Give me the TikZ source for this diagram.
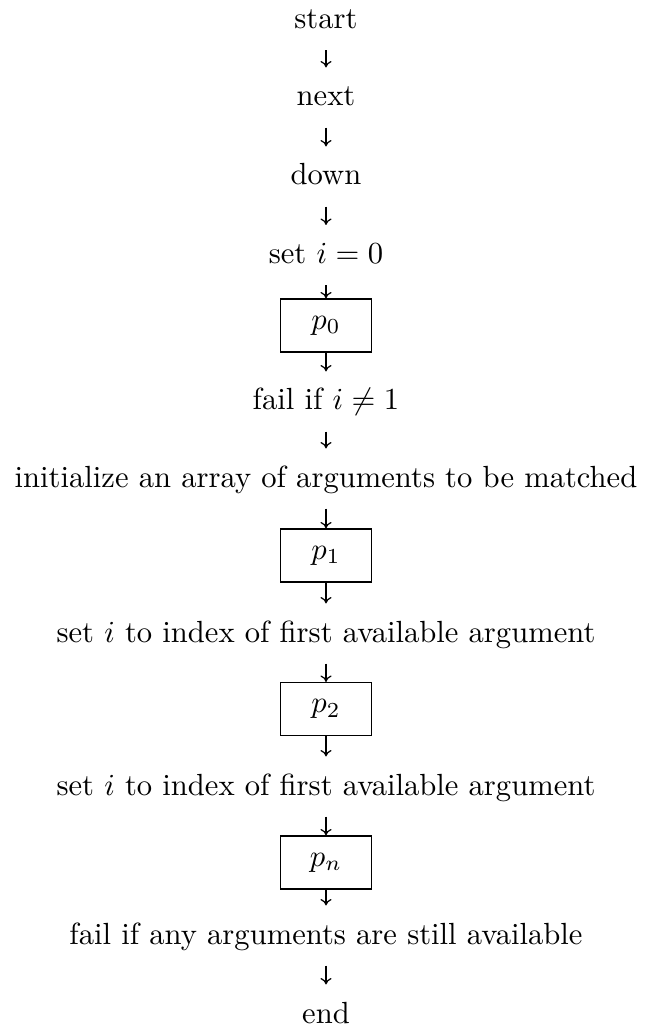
\documentclass[tikz,border=0pt]{standalone}
\usetikzlibrary{arrows.meta}
\begin{document}
\begin{tikzpicture}[x=0.3268pt,y=-0.3268pt,
  txt/.style={inner sep=0pt, anchor=base, text height=12.4pt, text depth=6.9pt},
  pbox/.style={draw, line width=0.4pt, inner sep=0pt, minimum width=29.6pt, minimum height=17.3pt},
  flow/.style={-{To[length=2.1pt,width=3.6pt]}, line width=0.4pt}]
\useasboundingbox (0,0) rectangle (644,1030);
\def\cx{326}
\node[txt] (start) at (\cx,28.5) {start};
\node[txt] (next) at (\cx,106) {next};
\node[txt] (down) at (\cx,185) {down};
\node[txt] (seti) at (\cx,263.5) {set $i = 0$};
\node[pbox] (p0) at (\cx,325.5) {$p_0$};
\node[txt] (fail1) at (\cx,410) {fail if $i \neq 1$};
\node[txt] (init) at (\cx,487) {initialize an array of arguments to be matched};
\node[pbox] (p1) at (\cx,555.5) {$p_1$};
\node[txt] (set1) at (\cx,642) {set $i$ to index of first available argument};
\node[pbox] (p2) at (\cx,709) {$p_2$};
\node[txt] (set2) at (\cx,795) {set $i$ to index of first available argument};
\node[pbox] (pn) at (\cx,862.5) {$p_n$};
\node[txt] (failany) at (\cx,944) {fail if any arguments are still available};
\node[txt] (end) at (\cx,1023) {end};
\draw[flow] (start) -- (next);
\draw[flow] (next) -- (down);
\draw[flow] (down) -- (seti);
\draw[flow] (seti) -- (p0);
\draw[flow] (p0) -- (fail1);
\draw[flow] (fail1) -- (init);
\draw[flow] (init) -- (p1);
\draw[flow] (p1) -- (set1);
\draw[flow] (set1) -- (p2);
\draw[flow] (p2) -- (set2);
\draw[flow] (set2) -- (pn);
\draw[flow] (pn) -- (failany);
\draw[flow] (failany) -- (end);
\end{tikzpicture}
\end{document}
